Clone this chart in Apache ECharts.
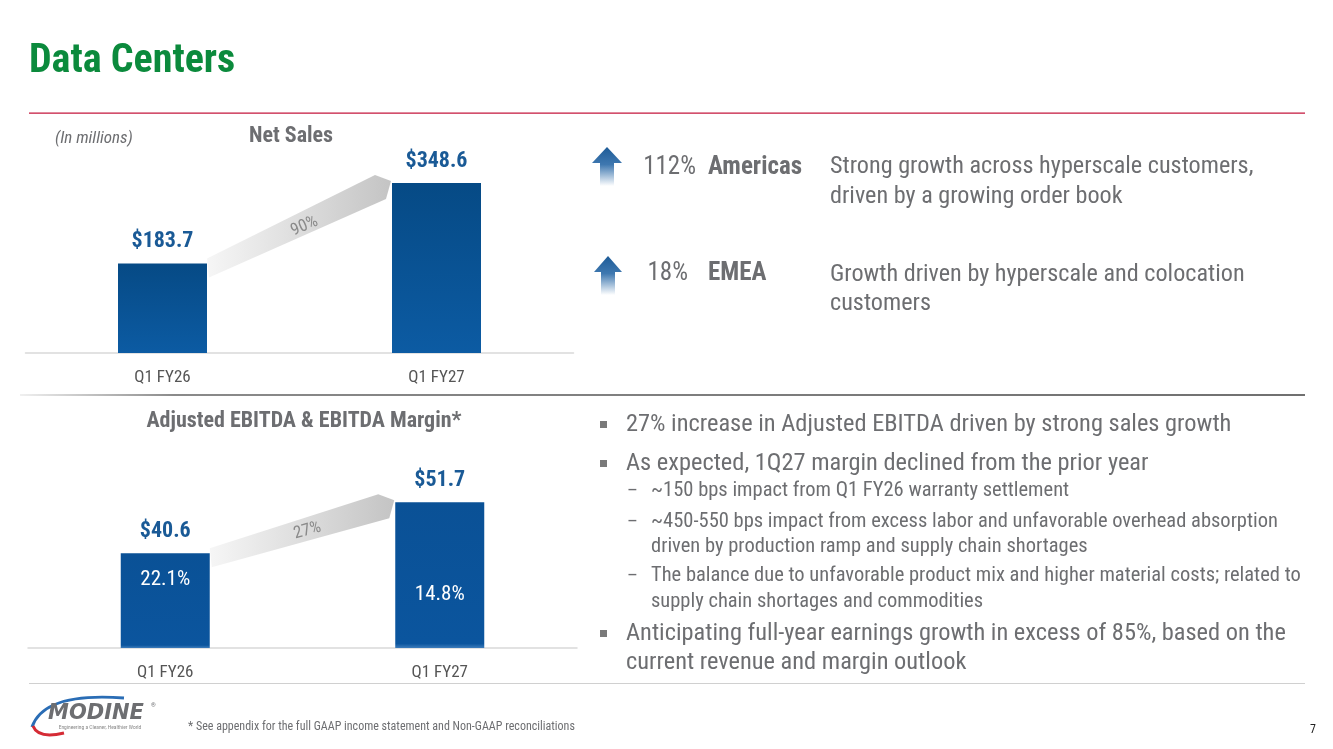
<!DOCTYPE html>
<html><head><meta charset="utf-8">
<script src="https://cdn.jsdelivr.net/npm/echarts@6/dist/echarts.min.js"></script>
<style>html,body{margin:0;padding:0;background:#fff}#c{width:1333px;height:749px}</style>
</head><body><div id="c"></div>
<script>
// ---------- data ----------
const categories = ['Q1 FY26', 'Q1 FY27'];
const netSales = [183.7, 348.6];
const netSalesGrowth = '90%';
const ebitda = [40.6, 51.7];
const ebitdaMargin = [22.1, 14.8];
const ebitdaGrowth = '27%';
const regionPct = ['112%', '18%'];
const regionNames = ['Americas', 'EMEA'];
const regionNotes = [
  ['Strong growth across hyperscale customers,', 'driven by a growing order book'],
  ['Growth driven by hyperscale and colocation', 'customers']
];
const bulletLines = [
  {kind: 'main', text: '27% increase in Adjusted EBITDA driven by strong sales growth'},
  {kind: 'main', text: 'As expected, 1Q27 margin declined from the prior year'},
  {kind: 'sub', text: '~150 bps impact from Q1 FY26 warranty settlement'},
  {kind: 'sub', text: '~450-550 bps impact from excess labor and unfavorable overhead absorption'},
  {kind: 'cont', text: 'driven by production ramp and supply chain shortages'},
  {kind: 'sub', text: 'The balance due to unfavorable product mix and higher material costs; related to'},
  {kind: 'cont', text: 'supply chain shortages and commodities'},
  {kind: 'main', text: 'Anticipating full-year earnings growth in excess of 85%, based on the'},
  {kind: 'maincont', text: 'current revenue and margin outlook'}
];

// ---------- styling ----------
const FONT = '"Liberation Sans Narrow","Roboto Condensed","DejaVu Sans Condensed","Noto Sans",sans-serif';
const GRAY = '#6d6e71';
const BLUE_LABEL = '#1a5a96';
const chart = echarts.init(document.getElementById('c'), null, {renderer: 'canvas'});

const barGradTop = new echarts.graphic.LinearGradient(0, 0, 0, 1, [
  {offset: 0, color: '#064a85'}, {offset: 1, color: '#0c5ba3'}]);
const barGradBot = new echarts.graphic.LinearGradient(0, 0, 0, 1, [
  {offset: 0, color: '#0a5196'}, {offset: 0.97, color: '#0b559e'}, {offset: 1, color: '#3d7cbb'}]);

const marginDistances = [16, 82];

const xAxisCommon = {
  type: 'category', data: categories,
  axisLine: {lineStyle: {color: '#d9d9d9', width: 1.5}},
  axisTick: {show: false},
  axisLabel: {color: '#555', fontFamily: FONT, fontSize: 17, margin: 16}
};

const option = {
  backgroundColor: '#fff',
  animation: false,
  grid: [
    {left: 25.5, width: 548, top: 158, height: 195},
    {left: 28, width: 549, top: 464, height: 184}
  ],
  xAxis: [
    Object.assign({gridIndex: 0}, xAxisCommon),
    Object.assign({gridIndex: 1}, xAxisCommon)
  ],
  yAxis: [
    {gridIndex: 0, type: 'value', min: 0, max: 400, show: false},
    {gridIndex: 1, type: 'value', min: 20, max: 60, show: false}
  ],
  series: [
    {
      type: 'bar', xAxisIndex: 0, yAxisIndex: 0, data: netSales, barWidth: 89,
      itemStyle: {color: barGradTop},
      label: {show: true, position: 'top', distance: 11, color: BLUE_LABEL,
        fontFamily: FONT, fontWeight: 'bold', fontSize: 22,
        formatter: p => '$' + p.value.toFixed(1)},
      z: 5
    },
    {
      type: 'bar', xAxisIndex: 1, yAxisIndex: 1, data: ebitda, barWidth: 89,
      itemStyle: {color: barGradBot},
      label: {show: true, position: 'top', distance: 11, color: BLUE_LABEL,
        fontFamily: FONT, fontWeight: 'bold', fontSize: 22,
        formatter: p => '$' + p.value.toFixed(1)},
      z: 5
    },
    {
      type: 'bar', xAxisIndex: 1, yAxisIndex: 1, barWidth: 89, barGap: '-100%',
      data: ebitda.map((v, i) => ({
        value: v,
        label: {distance: marginDistances[i],
          formatter: () => ebitdaMargin[i].toFixed(1) + '%'}
      })),
      itemStyle: {color: 'rgba(0,0,0,0)'},
      label: {show: true, position: 'insideTop', color: '#fff',
        fontFamily: FONT, fontSize: 21},
      z: 6, silent: true
    }
  ]
};
chart.setOption(option);

// ---------- decorations ----------
function growthArrow(seriesIndex, vals, bw, text) {
  const a = chart.convertToPixel({seriesIndex: seriesIndex}, [0, vals[0]]);
  const b = chart.convertToPixel({seriesIndex: seriesIndex}, [1, vals[1]]);
  const L = [a[0] + bw / 2, a[1]];
  const R = [b[0] - bw / 2, b[1]];
  const pts = [[L[0], L[1] - 5], [R[0] - 17, R[1] - 8], [R[0] - 1, R[1] - 2],
               [R[0] - 6, R[1] + 16], [L[0] + 2, L[1] + 14]];
  const ang = Math.atan2(L[1] - R[1], R[0] - L[0]);
  return [
    {type: 'polygon', z: 1, shape: {points: pts},
     style: {fill: new echarts.graphic.LinearGradient(0, 0, 1, 0, [
       {offset: 0, color: '#f6f6f6'}, {offset: 1, color: '#c4c4c4'}])}},
    {type: 'text', z: 3, x: (L[0] + R[0]) / 2 + 5, y: (L[1] + R[1]) / 2 + 3, rotation: ang,
     style: {text: text, fill: '#8a8a8a', font: '17px ' + FONT, align: 'center', verticalAlign: 'middle'}}
  ];
}

function txt(x, y, text, size, opts) {
  opts = opts || {};
  return {type: 'text', x: x, y: y, z: 10,
    style: {text: text, fill: opts.color || GRAY,
      font: (opts.style || '') + ' ' + (opts.weight || '') + ' ' + size + 'px ' + (opts.family || FONT),
      align: opts.align || 'left', verticalAlign: 'middle'}};
}

function upArrow(cx, yTop, yBase, yBot, halfHead, halfShaft) {
  return {type: 'polygon', z: 10,
    shape: {points: [[cx, yTop], [cx + halfHead, yBase], [cx + halfShaft, yBase], [cx + halfShaft, yBot],
                     [cx - halfShaft, yBot], [cx - halfShaft, yBase], [cx - halfHead, yBase]]},
    style: {fill: new echarts.graphic.LinearGradient(0, 0, 0, 1, [
      {offset: 0, color: '#1d5b97'}, {offset: 0.45, color: '#3f78b0'}, {offset: 1, color: '#ffffff'}])}};
}

const g = [];
// title + rules
g.push(txt(29, 62, 'Data Centers', 40, {weight: 'bold', color: '#0b8a3c'}));
g.push({type: 'rect', z: 1, shape: {x: 29, y: 112.5, width: 1276, height: 1.3}, style: {fill: '#c4163c'}});
g.push({type: 'rect', z: 1, shape: {x: 20, y: 394, width: 1285, height: 2},
  style: {fill: new echarts.graphic.LinearGradient(0, 0, 1, 0, [
    {offset: 0, color: '#f0f0f0'}, {offset: 0.12, color: '#8a8a8a'}, {offset: 1, color: '#707070'}])}});
g.push({type: 'rect', z: 1, shape: {x: 29, y: 683, width: 1276, height: 1}, style: {fill: '#d0d0d0'}});

// chart titles
g.push(txt(55, 139, '(In millions)', 17, {style: 'italic', color: GRAY}));
g.push(txt(291, 136, 'Net Sales', 22, {weight: 'bold', align: 'center'}));
g.push(txt(304, 421, 'Adjusted EBITDA & EBITDA Margin*', 22, {weight: 'bold', align: 'center'}));

// growth arrows between bars
growthArrow(0, netSales, 89, netSalesGrowth).forEach(e => g.push(e));
growthArrow(1, ebitda, 89, ebitdaGrowth).forEach(e => g.push(e));

// regional panel
const regionY = [168, 274];
const noteY = [[167, 197], [275, 304]];
const pctRight = [696, 688];
g.push(upArrow(607, 147, 163, 186, 15, 7));
g.push(upArrow(608, 256, 272, 295, 14, 7));
regionPct.forEach((p, i) => {
  g.push(txt(pctRight[i], regionY[i], p, 25, {align: 'right'}));
  g.push(txt(708, regionY[i], regionNames[i], 25, {weight: 'bold'}));
  regionNotes[i].forEach((ln, j) => g.push(txt(830, noteY[i][j], ln, 24.2)));
});

// bullets
const bulletY = [425, 464, 491, 522, 547, 576, 602, 634, 663];
bulletLines.forEach((b, i) => {
  const y = bulletY[i];
  if (b.kind === 'main') {
    g.push({type: 'rect', z: 10, shape: {x: 600, y: y - 4, width: 7, height: 7}, style: {fill: '#7a7a7a'}});
    g.push(txt(626, y, b.text, 24.4));
  } else if (b.kind === 'maincont') {
    g.push(txt(626, y, b.text, 24.4));
  } else if (b.kind === 'sub') {
    g.push(txt(627, y, '–', 19));
    g.push(txt(651, y, b.text, 20.5));
  } else {
    g.push(txt(651, y, b.text, 20.5));
  }
});

// footer
g.push({type: 'bezierCurve', z: 10, shape: {x1: 32, y1: 727, cpx1: 44, cpy1: 692, x2: 124, y2: 698},
  style: {stroke: '#2a6db5', lineWidth: 3, fill: null}});
g.push({type: 'bezierCurve', z: 10, shape: {x1: 33, y1: 726, cpx1: 38, cpy1: 739, x2: 64, y2: 733},
  style: {stroke: '#d52b35', lineWidth: 3, fill: null}});
g.push(txt(96, 714, 'MODINE', 21, {weight: 'bold', style: 'italic', align: 'center', color: '#6d6e71',
  family: '"DejaVu Sans",sans-serif'}));
g.push(txt(151, 705, '®', 6, {color: '#6d6e71'}));
g.push(txt(100, 728, 'Engineering a Cleaner, Healthier World', 5.5, {align: 'center', color: '#8a8a8a'}));
g.push(txt(188, 727, '* See appendix for the full GAAP income statement and Non-GAAP reconciliations', 12, {color: '#6d6e71'}));
g.push(txt(1310, 730, '7', 12, {color: '#222'}));

chart.setOption({graphic: {elements: g}});
</script>
</body></html>
